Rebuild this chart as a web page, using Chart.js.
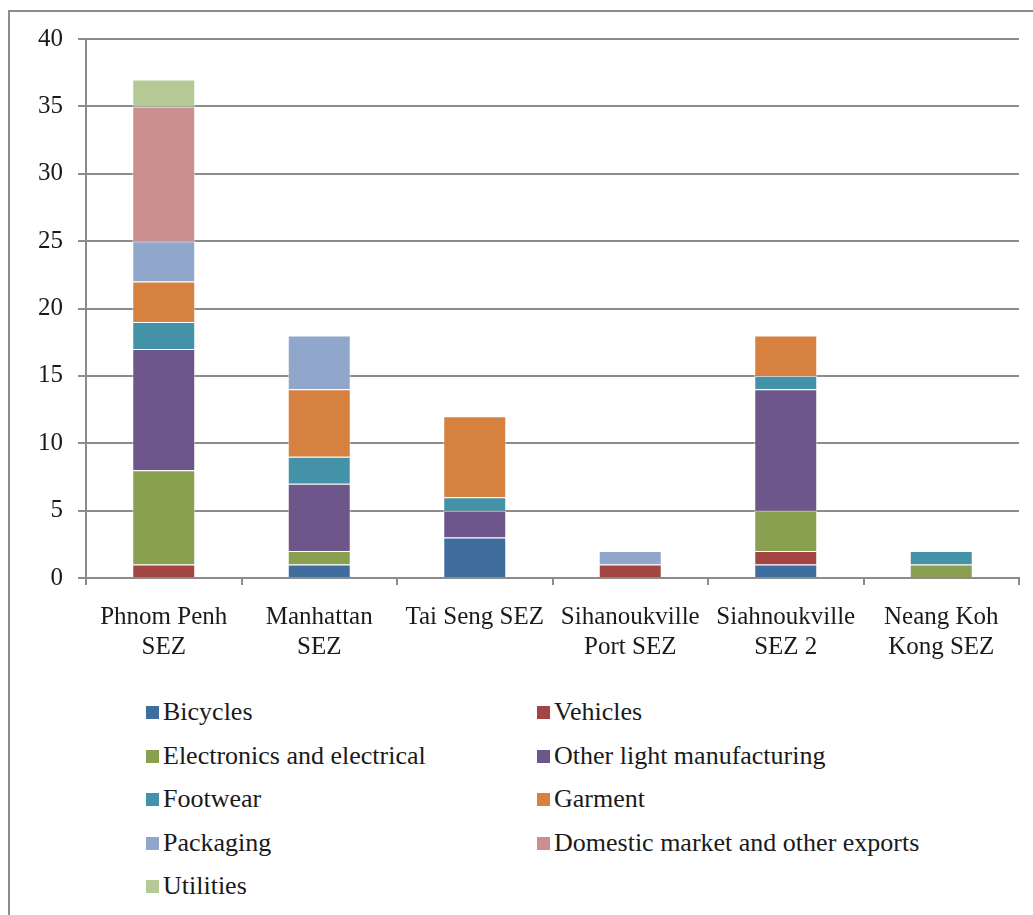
<!DOCTYPE html>
<html>
<head>
<meta charset="utf-8">
<script src="https://cdn.jsdelivr.net/npm/chart.js@4"></script>
<style>
  body { margin: 0; background: #fff; width: 1033px; height: 915px; overflow: hidden; position: relative; font-family: "Times New Roman", "Liberation Serif", Tinos, "DejaVu Serif", "Noto Serif", serif; }
  #frame { position: absolute; left: 8px; top: 10px; width: 1100px; height: 1000px; border: 2px solid #8c8c8c; box-sizing: border-box; }
  #chart { position: absolute; left: 0; top: 0; }
  .legend-item { position: absolute; font-size: 26px; color: #1a1a1a; line-height: 30px; white-space: nowrap; }
  .legend-item span { display: inline-block; width: 13px; height: 13px; margin-right: 4px; vertical-align: 1px; }
</style>
</head>
<body>
<div id="frame"></div>
<canvas id="chart" width="1033" height="680"></canvas>
<div id="legend"></div>
<script>
// zones along the x axis
const zones = [
    ["Phnom Penh", "SEZ"],
    ["Manhattan", "SEZ"],
    "Tai Seng SEZ",
    ["Sihanoukville", "Port SEZ"],
    ["Siahnoukville", "SEZ 2"],
    ["Neang Koh", "Kong SEZ"]
];

// number of firms per sector, one value per zone
const bicycles    = [0, 1, 3, 0, 1, 0];
const vehicles    = [1, 0, 0, 1, 1, 0];
const electronics = [7, 1, 0, 0, 3, 1];
const otherLight  = [9, 5, 2, 0, 9, 0];
const footwear    = [2, 2, 1, 0, 1, 1];
const garment     = [3, 5, 6, 0, 3, 0];
const packaging   = [3, 4, 0, 1, 0, 0];
const domestic    = [10, 0, 0, 0, 0, 0];
const utilities   = [2, 0, 0, 0, 0, 0];

const yTicks = [0, 5, 10, 15, 20, 25, 30, 35, 40];

const series = [
    { label: "Bicycles", data: bicycles, color: "#3f6e9e" },
    { label: "Vehicles", data: vehicles, color: "#a24543" },
    { label: "Electronics and electrical", data: electronics, color: "#88a04f" },
    { label: "Other light manufacturing", data: otherLight, color: "#6d578a" },
    { label: "Footwear", data: footwear, color: "#4392a8" },
    { label: "Garment", data: garment, color: "#d68140" },
    { label: "Packaging", data: packaging, color: "#91a6cb" },
    { label: "Domestic market and other exports", data: domestic, color: "#cb8f8e" },
    { label: "Utilities", data: utilities, color: "#b5c995" }
];

const font = { family: "'Times New Roman', 'Liberation Serif', Tinos, 'DejaVu Serif', 'Noto Serif', serif", size: 25 };

new Chart(document.getElementById("chart").getContext("2d"), {
    type: "bar",
    data: {
        labels: zones,
        datasets: series.map(s => ({
            label: s.label,
            data: s.data,
            backgroundColor: s.color,
            borderColor: "rgba(255,255,255,0.55)",
            borderWidth: 1,
            categoryPercentage: 1,
            barPercentage: 0.405
        }))
    },
    options: {
        responsive: false,
        animation: false,
        layout: { padding: { top: 39, right: 14, left: 0, bottom: 0 } },
        plugins: { legend: { display: false }, tooltip: { enabled: false } },
        scales: {
            x: {
                stacked: true,
                grid: { offset: true, drawOnChartArea: false, color: "#8c8c8c", lineWidth: 2, tickLength: 7 },
                border: { color: "#8c8c8c", width: 2 },
                ticks: { font, color: "#1a1a1a", maxRotation: 0, autoSkip: false, padding: 17 },
                afterFit: scale => { scale.height = 102; }
            },
            y: {
                stacked: true,
                min: 0,
                max: 40,
                afterBuildTicks: scale => { scale.ticks = yTicks.map(v => ({ value: v })); },
                grid: { color: "#8c8c8c", lineWidth: 2, tickLength: 8 },
                border: { color: "#8c8c8c", width: 2 },
                ticks: { font, color: "#1a1a1a", padding: 15 },
                afterFit: scale => { scale.width = 86; }
            }
        }
    }
});

// two-column legend under the plot
const legend = document.getElementById("legend");
series.forEach((s, i) => {
    const item = document.createElement("div");
    item.className = "legend-item";
    item.style.left = (i % 2 === 0 ? 146 : 537) + "px";
    item.style.top = (697 + Math.floor(i / 2) * 43.6) + "px";
    item.innerHTML = `<span style="background:${s.color}"></span>${s.label}`;
    legend.appendChild(item);
});
</script>
</body>
</html>
